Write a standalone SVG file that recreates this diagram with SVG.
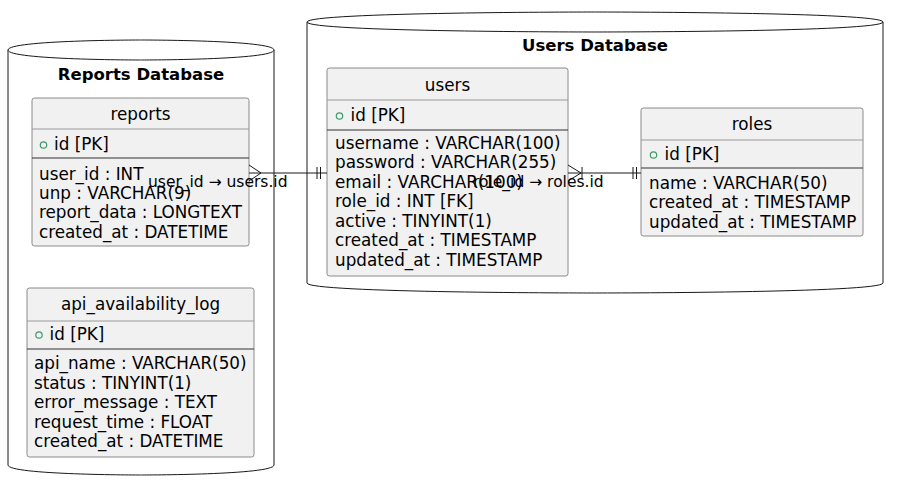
<svg xmlns="http://www.w3.org/2000/svg" width="904" height="490" viewBox="0 0 904 490">
<style>
.db{fill:#fff;stroke:#181818;stroke-width:1}
.title{font-family:"DejaVu Sans",sans-serif;font-size:16.5px;font-weight:bold;fill:#000;text-anchor:middle}
.box{fill:#F1F1F1;stroke:#8a8a8a;stroke-width:1}
.hd{stroke:#9a9a9a;stroke-width:1}
.pkd{stroke:#333;stroke-width:1.2}
.name{font-family:"DejaVu Sans",sans-serif;font-size:16.8px;fill:#000;text-anchor:middle}
.f{font-family:"DejaVu Sans",sans-serif;font-size:16.8px;fill:#000}
.pk{fill:none;stroke:#3a9a6a;stroke-width:1.2}
.ln{fill:none;stroke:#181818;stroke-width:1}
.lbl{font-family:"DejaVu Sans",sans-serif;font-size:15.5px;fill:#000}
</style>
<rect width="904" height="490" fill="#fff"/>
<g id="reports-database">
<path class="db" d="M8,50 C8,40 141,40 141,40 C141,40 274,40 274,50 L274,465 C274,475 141,475 141,475 C141,475 8,475 8,465 Z"/>
<path class="db" fill="none" d="M8,50 C8,60 141,60 141,60 C141,60 274,60 274,50"/>
<text class="title" x="141" y="80">Reports Database</text>
</g>
<g id="users-database">
<path class="db" d="M307,22 C307,12 595,12 595,12 C595,12 883,12 883,22 L883,283 C883,293 595,293 595,293 C595,293 307,293 307,283 Z"/>
<path class="db" fill="none" d="M307,22 C307,32 595,32 595,32 C595,32 883,32 883,22"/>
<text class="title" x="595" y="51">Users Database</text>
</g>
<g id="reports">
<rect class="box" x="32" y="98" width="217" height="148" rx="2.5"/>
<line class="hd" x1="32" y1="129" x2="249" y2="129"/>
<line class="pkd" x1="32" y1="158" x2="249" y2="158"/>
<text class="name" x="140.5" y="120">reports</text>
<circle class="pk" cx="43.5" cy="145" r="3.2"/>
<text class="f" x="54" y="150">id [PK]</text>
<text class="f" x="39" y="179.5">user_id : INT</text>
<text class="f" x="39" y="198.5">unp : VARCHAR(9)</text>
<text class="f" x="39" y="218">report_data : LONGTEXT</text>
<text class="f" x="39" y="237.5">created_at : DATETIME</text>
</g>
<g id="api_availability_log">
<rect class="box" x="27" y="288" width="227" height="169" rx="2.5"/>
<line class="hd" x1="27" y1="321" x2="254" y2="321"/>
<line class="pkd" x1="27" y1="349" x2="254" y2="349"/>
<text class="name" x="140.5" y="310">api_availability_log</text>
<circle class="pk" cx="39" cy="335" r="3.2"/>
<text class="f" x="49.5" y="340">id [PK]</text>
<text class="f" x="34" y="369">api_name : VARCHAR(50)</text>
<text class="f" x="34" y="388.5">status : TINYINT(1)</text>
<text class="f" x="34" y="408">error_message : TEXT</text>
<text class="f" x="34" y="427.5">request_time : FLOAT</text>
<text class="f" x="34" y="447">created_at : DATETIME</text>
</g>
<g id="users">
<rect class="box" x="327" y="68" width="241" height="208" rx="2.5"/>
<line class="hd" x1="327" y1="100" x2="568" y2="100"/>
<line class="pkd" x1="327" y1="130" x2="568" y2="130"/>
<text class="name" x="447.5" y="91">users</text>
<circle class="pk" cx="339.5" cy="116" r="3.2"/>
<text class="f" x="350.5" y="121">id [PK]</text>
<text class="f" x="335" y="148.5">username : VARCHAR(100)</text>
<text class="f" x="335" y="168">password : VARCHAR(255)</text>
<text class="f" x="335" y="187.5">email : VARCHAR(100)</text>
<text class="f" x="335" y="207">role_id : INT [FK]</text>
<text class="f" x="335" y="226.5">active : TINYINT(1)</text>
<text class="f" x="335" y="246">created_at : TIMESTAMP</text>
<text class="f" x="335" y="265.5">updated_at : TIMESTAMP</text>
</g>
<g id="roles">
<rect class="box" x="641" y="108" width="222" height="128" rx="2.5"/>
<line class="hd" x1="641" y1="140" x2="863" y2="140"/>
<line class="pkd" x1="641" y1="168" x2="863" y2="168"/>
<text class="name" x="752" y="130">roles</text>
<circle class="pk" cx="653.5" cy="155" r="3.2"/>
<text class="f" x="664.5" y="160">id [PK]</text>
<text class="f" x="649" y="188.5">name : VARCHAR(50)</text>
<text class="f" x="649" y="208">created_at : TIMESTAMP</text>
<text class="f" x="649" y="227.5">updated_at : TIMESTAMP</text>
</g>
<g id="connectors">
<path class="ln" d="M249,173 L327,173"/>
<path class="ln" d="M249,165 L261,173 L249,181"/>
<path class="ln" d="M317,167 L317,179 M320.5,167 L320.5,179"/>
<text class="lbl" x="148" y="187">user_id → users.id</text>
<path class="ln" d="M568,173 L641,173"/>
<path class="ln" d="M568,165 L581,173 L568,181"/>
<path class="ln" d="M582,167 L582,179"/>
<path class="ln" d="M633,167 L633,179 M636.5,167 L636.5,179"/>
<text class="lbl" x="473" y="187">role_id → roles.id</text>
</g>
</svg>
